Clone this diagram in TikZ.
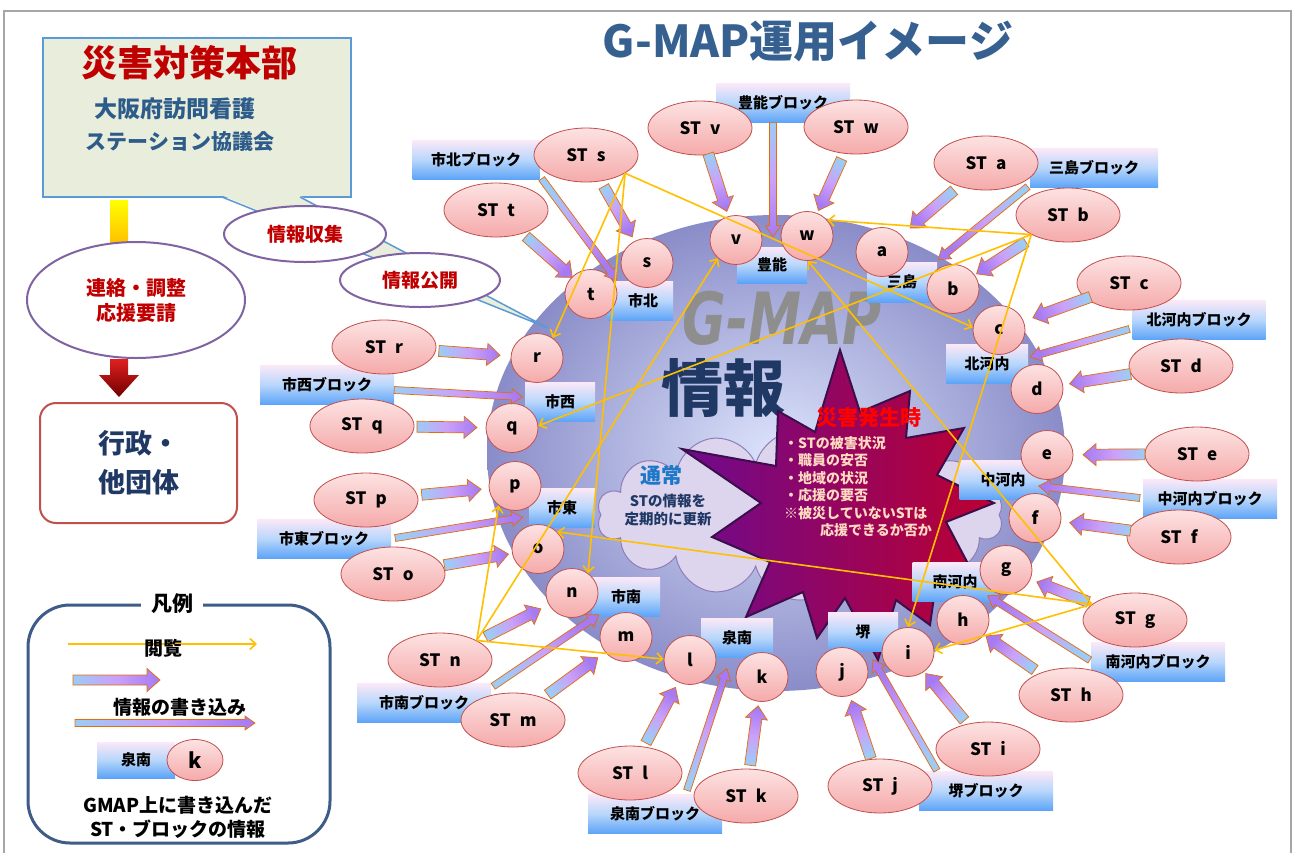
\documentclass[tikz,border=0pt]{standalone}
\usepackage{fontspec}
\setmainfont{Noto Sans CJK JP}
\newfontfamily\dvs{DejaVu Sans}
\usetikzlibrary{calc,shapes.geometric,shapes.symbols,arrows.meta}
\newcommand\fsz[1]{\fontsize{#1pt}{1.25\dimexpr#1pt\relax}\selectfont}
\definecolor{frameG}{HTML}{A6A6A6}
\definecolor{boxF}{HTML}{E9EEDC}
\definecolor{boxB}{HTML}{5B9BD5}
\definecolor{redT}{HTML}{C00000}
\definecolor{navy}{HTML}{1F3864}
\definecolor{steel}{HTML}{2E5C8A}
\definecolor{purpB}{HTML}{8064A2}
\definecolor{brickB}{HTML}{C0504D}
\definecolor{legB}{HTML}{3E5C86}
\definecolor{ttl}{HTML}{36608F}
\definecolor{yel}{HTML}{FFC000}
\definecolor{pinkT}{HTML}{FDE2E2}
\definecolor{pinkB}{HTML}{F5AAAA}
\definecolor{pinkD}{HTML}{C0504D}
\definecolor{lblT}{HTML}{FBE8F8}
\definecolor{lblM}{HTML}{B7D6FB}
\definecolor{lblB}{HTML}{5CA3F8}
\definecolor{arrO}{HTML}{E46C0A}
\definecolor{arrL}{HTML}{9DCBF6}
\definecolor{arrM}{HTML}{CBA0F8}
\definecolor{arrR}{HTML}{A57AF2}
\definecolor{sphI}{HTML}{DCE3FB}
\definecolor{sphO}{HTML}{8A8CC8}
\definecolor{cloudF}{HTML}{DDD4EE}
\definecolor{cloudB}{HTML}{8E7DB8}
\definecolor{starL}{HTML}{6E0A8E}
\definecolor{starM}{HTML}{B0005E}
\definecolor{starR}{HTML}{BC0030}
\definecolor{starB}{HTML}{3C0F4C}
\definecolor{peach}{HTML}{FFD9C0}
\definecolor{tsujo}{HTML}{1E78C8}
\definecolor{redA}{HTML}{E02020}
\definecolor{redZ}{HTML}{700000}
\definecolor{gmapC}{HTML}{8E8E8E}
\tikzset{
  circ/.style={ellipse, draw=pinkD, line width=0.8pt, top color=pinkT, bottom color=pinkB,
    minimum width=52pt, minimum height=49pt, inner sep=0pt, font=\fsz{17}\bfseries},
  stn/.style={circ, minimum width=104pt, minimum height=54pt},
  blk/.style={rectangle, inner sep=0pt, top color=lblT, bottom color=lblB, middle color=lblM,
    minimum width=134pt, minimum height=39pt, font=\fsz{15}\bfseries},
  blks/.style={blk, minimum width=70pt},
  thk/.style={draw=arrO, line width=0.7pt, left color=arrL, right color=arrR, middle color=arrM},
  redarr/.style={draw=none, left color=redA, right color=redZ},
  yarr/.style={draw=yel, line width=1.6pt, -{Straight Barb[length=6pt,width=11pt]}},
  bubble/.style={ellipse, draw=purpB, line width=2pt, fill=white, inner sep=0pt,
    font=\fsz{19}\bfseries, text=redT, align=center}
}
% block arrow: style, start, end, half shaft, half head, head length
\newcommand\barrow[6]{%
  \path (#2) coordinate (bA) (#3) coordinate (bB);
  \pgfmathanglebetweenpoints{\pgfpointanchor{bA}{center}}{\pgfpointanchor{bB}{center}}%
  \pgfmathsetmacro\bang{\pgfmathresult+90}%
  \coordinate (bH) at ($(bB)!#6!(bA)$);
  \draw[#1, shading angle=\bang] ($(bA)!#4!90:(bB)$) -- ($(bH)!#4!-90:(bA)$) --
    ($(bH)!#5!-90:(bA)$) -- (bB) -- ($(bH)!#5!90:(bA)$) -- ($(bH)!#4!90:(bA)$) --
    ($(bA)!#4!-90:(bB)$) -- cycle;
}
\newcommand\tarrow[4]{\barrow{thk}{$(#1)!#3!(#2)$}{$(#2)!#4!(#1)$}{5.5pt}{11pt}{13pt}}
\newcommand\narrow[2]{\barrow{thk}{#1}{#2}{3.5pt}{7.5pt}{11pt}}
\newcommand\stl[1]{ST\hspace{9pt}#1}
\begin{document}
\begin{tikzpicture}[x=1pt,y=-1pt]
\useasboundingbox (0,0) rectangle (1295,852);
\clip (0,0) rectangle (1295,852);
\fill[white] (0,0) rectangle (1295,852);
\draw[frameG, line width=1.5pt] (4,11) rectangle (1291,870);

% sphere
\shade[inner color=sphI, outer color=sphO] (776,453) ellipse [x radius=289pt, y radius=238pt];

% headquarters callout
\node[rectangle, draw=boxB, line width=2pt, fill=boxF, minimum width=308pt, minimum height=159pt, inner sep=0pt] (hq) at (197,117.5) {};
\fill[boxF] (222.5,195.6) -- (299.5,195.6) -- (548,328) -- cycle;
\draw[boxB, line width=1.5pt] (222,197) -- (548,328) -- (300,197);
\node[font=\fsz{36}\bfseries, text=redT] (hqt) at (189,63) {災害対策本部};
\node[font=\fsz{23}\bfseries, text=steel] (hq1) at (175,109) {大阪府訪問看護};
\node[font=\fsz{21}\bfseries, text=steel] (hq2) at (180,142) {ステーション協議会};
\shade[top color=yellow, bottom color=yel] (110,200) rectangle (128,243);
\node[bubble, minimum width=162pt, minimum height=56pt] (shu) at (305,234) {情報収集};
\node[bubble, minimum width=160pt, minimum height=54pt] (kou) at (420,280) {情報公開};
\node[bubble, minimum width=218pt, minimum height=116pt, font=\fsz{20}\bfseries] (renraku) at (136,300) {連絡・調整\\応援要請};
\node[rectangle, rounded corners=16pt, draw=brickB, line width=2pt, fill=white, minimum width=197pt, minimum height=120pt, align=center, font=\fsz{27}\bfseries, text=navy] (gyosei) at (138.5,463) {行政・\\[5pt]他団体};
\barrow{redarr}{[xshift=-17pt]renraku.south}{[xshift=-19.5pt,yshift=5pt]gyosei.north}{9pt}{20pt}{22pt}

% legend
\draw[legB, line width=3pt, rounded corners=42pt] (28,605) rectangle (330,843);
\node[fill=white, font=\fsz{21}\bfseries, inner xsep=10pt] (lgt) at (172,604) {凡例};
\coordinate (ly1) at (68,644); \coordinate (ly2) at (257,644);
\draw[yarr] (ly1) -- (ly2);
\node[font=\fsz{19}\bfseries] (lgt1) at (163,648) {閲覧};
\coordinate (lb1) at (73,680); \coordinate (lb2) at (160,680);
\barrow{thk}{lb1}{lb2}{5pt}{11.5pt}{13pt}
\node[font=\fsz{19}\bfseries] (lgt2) at (180,707) {情報の書き込み};
\coordinate (lc1) at (75,723); \coordinate (lc2) at (255,723);
\barrow{thk}{lc1}{lc2}{3.5pt}{7pt}{10pt}
\node[blk, minimum width=78pt, minimum height=36pt] (lgsn) at (136,760) {泉南};
\node[circ, minimum width=56pt, minimum height=41pt, font=\fsz{21}\bfseries] (lgk) at (195,760) {k};
\node[font=\fsz{19}\bfseries, align=center] (lgt3) at (178,817) {GMAP上に書き込んだ\\ST・ブロックの情報};

% title
\node[font=\fsz{44}\bfseries, text=ttl] (title) at (808,41) {G-MAP運用イメージ};

% sphere texts
\node[font=\dvs\fsz{72}\bfseries\itshape, text=gmapC] (gmap) at (782,318) {\scalebox{0.74}[1]{G-MAP}};
\node[font=\fsz{62}\bfseries, text=navy] (joho) at (723,388) {情報};

% cloud
\node[cloud, cloud puffs=14, aspect=2.3, minimum width=406pt, minimum height=170pt, fill=cloudF, draw=cloudB, line width=1pt] (cloud) at (800,515) {};
\node[font=\fsz{21}\bfseries, text=tsujo] (tsu) at (661,475) {通常};
\node[font=\fsz{14.5}\bfseries, text=navy, align=center] (tsu2) at (668,510) {STの情報を\\定期的に更新};

% star
\draw[starB, line width=2pt, left color=starL, middle color=starM, right color=starR]
 (840,350) -- (860,412) -- (910,391) -- (906,438) -- (964,428) -- (937,475) -- (994,503) --
 (946,522) -- (975,577) -- (935,590) -- (930,625) -- (896,600) -- (878,660) -- (845,598) --
 (817,638) -- (803,592) -- (746,617) -- (770,562) -- (712,537) -- (761,503) -- (682,449) --
 (776,466) -- (778,411) -- (815,432) -- cycle;
\node[font=\fsz{21}\bfseries, text=red] (saigai) at (869,418) {災害発生時};
\node[font=\fsz{14}\bfseries, text=peach, align=left, anchor=north west, inner sep=0pt] (saigai2) at (784,436)
 {・STの被害状況\\・職員の安否\\・地域の状況\\・応援の要否\\※被災していないSTは\\\hspace{36pt}応援できるか否か};

% block labels (large)
\node[blk, minimum width=127pt] (hokB) at (476,160) {市北ブロック};
\node[blk] (toyB) at (783,103) {豊能ブロック};
\node[blk, minimum width=128pt] (mshB) at (1094,168) {三島ブロック};
\node[blk, minimum width=133pt] (kkB) at (1199,320) {北河内ブロック};
\node[blk] (nkB) at (1210,499) {中河内ブロック};
\node[blk] (mkB) at (1158,662) {南河内ブロック};
\node[blk] (skB) at (986,791) {堺ブロック};
\node[blk] (snB) at (655,814) {泉南ブロック};
\node[blk] (nanB) at (424,703) {市南ブロック};
\node[blk] (touB) at (324,539) {市東ブロック};
\node[blk] (shiB) at (327,385) {市西ブロック};

% block labels (small)
\node[blks, minimum width=66pt] (hok) at (640,301) {\hspace{6pt}市北};
\node[blks, minimum height=36pt] (toy) at (772,265) {豊能};
\node[blks, minimum height=40pt] (msh) at (902,282) {三島};
\node[blks, minimum width=82pt] (kk) at (987,364) {北河内};
\node[blks, minimum width=87pt] (nk) at (1003,480) {中河内};
\node[blks, minimum width=85pt] (mk) at (955,582) {南河内};
\node[blks] (sk) at (863,632) {堺};
\node[blks, minimum width=72pt] (sn) at (737,638) {泉南};
\node[blks, minimum width=68pt] (nan) at (626,597) {市南};
\node[blks, minimum width=66pt] (tou) at (562,508) {市東};
\node[blks] (shi) at (560,402) {市西};

% station circles on the map
\node[circ] (cv) at (736,240) {v};
\node[circ] (cw) at (807,236) {w};
\node[circ] (ca) at (882,252) {a};
\node[circ] (cb) at (953,289) {b};
\node[circ] (cc) at (999,330) {c};
\node[circ] (cd) at (1037,389) {d};
\node[circ] (ce) at (1047,455) {e};
\node[circ] (cf) at (1035,518) {f};
\node[circ] (cg) at (1006,570) {g};
\node[circ] (ch) at (963,620) {h};
\node[circ] (ci) at (908,652) {i};
\node[circ] (cj) at (842,672) {j};
\node[circ] (ck) at (762,677) {k};
\node[circ] (cl) at (690,660) {l};
\node[circ] (cm) at (626,637) {m};
\node[circ] (cn) at (572,593) {n};
\node[circ] (co) at (538,549) {o};
\node[circ] (cp) at (515,486) {p};
\node[circ] (cq) at (512,428) {q};
\node[circ] (cr) at (537,358) {r};
\node[circ] (ct) at (591,294) {t};
\node[circ] (cs) at (647,263) {s};

% block arrows: block label -> small label
\narrow{[shift={(0,5)}]shiB.east}{[shift={(-2,-5)}]shi.west}
\narrow{[shift={(4,-1)}]touB.east}{[shift={(-6,9)}]tou.west}
\narrow{[shift={(2,3)}]nanB.north east}{[shift={(7,-2)}]nan.south west}
\narrow{[shift={(32,-4)}]snB.north}{[shift={(-10,11)}]sn.south}
\narrow{[shift={(18,-1)}]skB.north west}{[shift={(10,8)}]sk.south}
\narrow{[shift={(-1,-2)}]mkB.west}{[shift={(-10,-6)}]mk.south east}
\narrow{[shift={(-3,-1)}]nkB.west}{[shift={(-8,6)}]nk.east}
\narrow{[shift={(-3,9)}]kkB.west}{[shift={(2,-7)}]kk.east}
\narrow{[shift={(-2,-1)}]mshB.south west}{[shift={(1,-2)}]msh.north east}
\narrow{[shift={(-10,0)}]toyB.south}{[shift={(1,-10)}]toy.north}
\narrow{[shift={(2,-1)}]hokB.south east}{[shift={(10,-1)}]hok.north west}

% ST ellipses
\node[stn] (STv) at (700,128) {\stl{v}};
\node[stn] (STw) at (856,127) {\stl{w}};
\node[stn] (STs) at (586,155) {\stl{s}};
\node[stn] (STt) at (496,210) {\stl{t}};
\node[stn] (STa) at (986,163) {\stl{a}};
\node[stn] (STb) at (1068,215) {\stl{b}};
\node[stn] (STc) at (1129,283) {\stl{c}};
\node[stn] (STd) at (1181,366) {\stl{d}};
\node[stn] (STe) at (1197,454) {\stl{e}};
\node[stn] (STf) at (1179,537) {\stl{f}};
\node[stn] (STg) at (1135,620) {\stl{g}};
\node[stn] (STh) at (1071,695) {\stl{h}};
\node[stn] (STi) at (988,749) {\stl{i}};
\node[stn] (STj) at (880,786) {\stl{j}};
\node[stn] (STk) at (746,796) {\stl{k}};
\node[stn] (STl) at (630,773) {\stl{l}};
\node[stn] (STm) at (513,720) {\stl{m}};
\node[stn] (STn) at (440,660) {\stl{n}};
\node[stn] (STo) at (393,574) {\stl{o}};
\node[stn] (STp) at (366,500) {\stl{p}};
\node[stn] (STq) at (362,426) {\stl{q}};
\node[stn] (STr) at (384,347) {\stl{r}};

% block arrows: ST -> circle
\tarrow{STt}{ct}{40pt}{25pt}
\tarrow{STs}{cs}{36pt}{30pt}
\tarrow{STv}{cv}{27pt}{30pt}
\tarrow{STw}{cw}{35pt}{28pt}
\tarrow{STa}{ca}{42pt}{37pt}
\tarrow{STb}{cb}{50pt}{28pt}
\tarrow{STc}{cc}{41pt}{36pt}
\tarrow{STd}{cd}{51pt}{33pt}
\tarrow{STe}{ce}{52pt}{36pt}
\tarrow{STf}{cf}{49pt}{35pt}
\tarrow{STg}{cg}{50pt}{33pt}
\tarrow{STh}{ch}{44pt}{28pt}
\tarrow{STi}{ci}{37pt}{28pt}
\tarrow{STj}{cj}{29pt}{30pt}
\tarrow{STk}{ck}{31pt}{29pt}
\tarrow{STl}{cl}{34pt}{31pt}
\tarrow{STm}{cm}{43pt}{35pt}
\tarrow{STn}{cn}{51pt}{35pt}
\tarrow{STo}{co}{52pt}{30pt}
\tarrow{STp}{cp}{56pt}{34pt}
\tarrow{STq}{cq}{55pt}{35pt}
\tarrow{STr}{cr}{55pt}{37pt}

% browsing arrows
\draw[yarr] (STs.-25) -- (cr.52);
\draw[yarr] (STs.-25) -- (cn.51);
\draw[yarr] (STs.-25) -- (cc.174);
\draw[yarr] (STb.-152) -- (cw.38);
\draw[yarr] (STb.-152) -- (cq.5);
\draw[yarr] (STb.-152) -- (ci.90);
\draw[yarr] (STg.160) -- (co.42);
\draw[yarr] (STg.160) -- (ci.4);
\draw[yarr] (STg.160) -- (cw.-88);
\draw[yarr] (STn.28) -- (cp.-130);
\draw[yarr] (STn.28) -- (cv.-135);
\draw[yarr] (STn.28) -- (cl.178);
\end{tikzpicture}
\end{document}
